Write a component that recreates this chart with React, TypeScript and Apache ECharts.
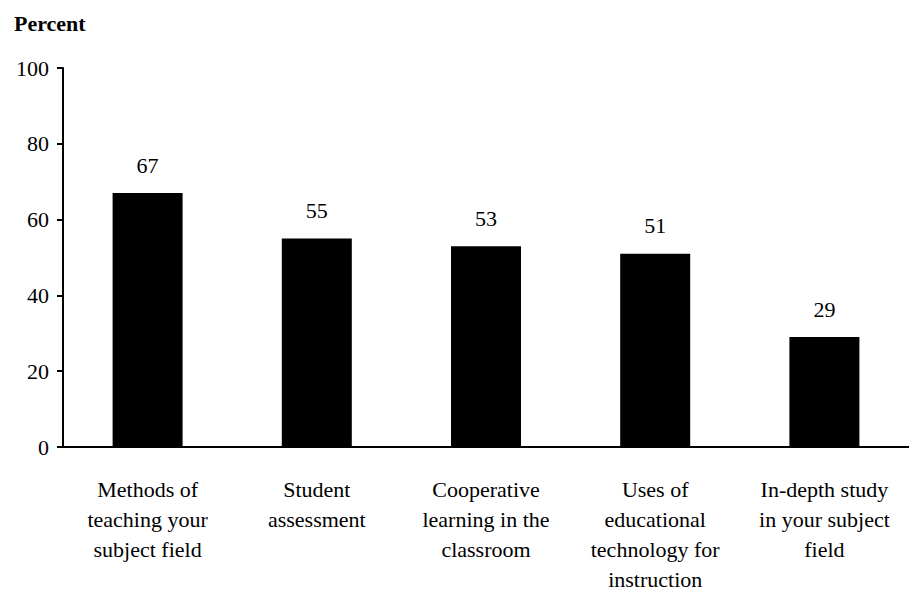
import React, { useEffect, useRef } from "react";
import * as echarts from "echarts";

const categories = [
  "Methods of\nteaching your\nsubject field",
  "Student\nassessment",
  "Cooperative\nlearning in the\nclassroom",
  "Uses of\neducational\ntechnology for\ninstruction",
  "In-depth study\nin your subject\nfield",
];
const values = [67, 55, 53, 51, 29];
const yTitle = "Percent";

const FONT = "'Liberation Serif', 'Times New Roman', serif";

export default function App() {
  const ref = useRef<HTMLDivElement>(null);
  useEffect(() => {
    if (!ref.current) return;
    const chart = echarts.init(ref.current, null, { renderer: "svg" });
    chart.setOption({
      animation: false,
      backgroundColor: "#ffffff",
      textStyle: { fontFamily: FONT, color: "#000" },
      title: {
        text: yTitle,
        left: 9,
        top: 7,
        textStyle: { fontFamily: FONT, fontWeight: "bold", fontSize: 22, color: "#000" },
      },
      grid: { left: 63, right: 0, top: 68, bottom: 140, containLabel: false },
      xAxis: {
        type: "category",
        data: categories,
        axisLine: { show: true, lineStyle: { color: "#000", width: 2 } },
        axisTick: { show: false },
        axisLabel: {
          interval: 0,
          margin: 27,
          fontFamily: FONT,
          fontSize: 22,
          lineHeight: 30,
          color: "#000",
        },
      },
      yAxis: {
        type: "value",
        min: 0,
        max: 100,
        interval: 20,
        splitLine: { show: false },
        axisLine: { show: true, lineStyle: { color: "#000", width: 2 } },
        axisTick: { show: true, length: 6, lineStyle: { color: "#000", width: 2 } },
        axisLabel: { fontFamily: FONT, fontSize: 22, color: "#000", margin: 14 },
      },
      series: [
        {
          type: "bar",
          data: values,
          barWidth: 70,
          itemStyle: { color: "#000" },
          label: {
            show: true,
            position: "top",
            distance: 17,
            fontFamily: FONT,
            fontSize: 22,
            color: "#000",
          },
        },
      ],
    });
    return () => chart.dispose();
  }, []);
  return (
    <div
      ref={ref}
      style={{ position: "fixed", left: 0, top: 0, width: 909, height: 594 }}
    />
  );
}
